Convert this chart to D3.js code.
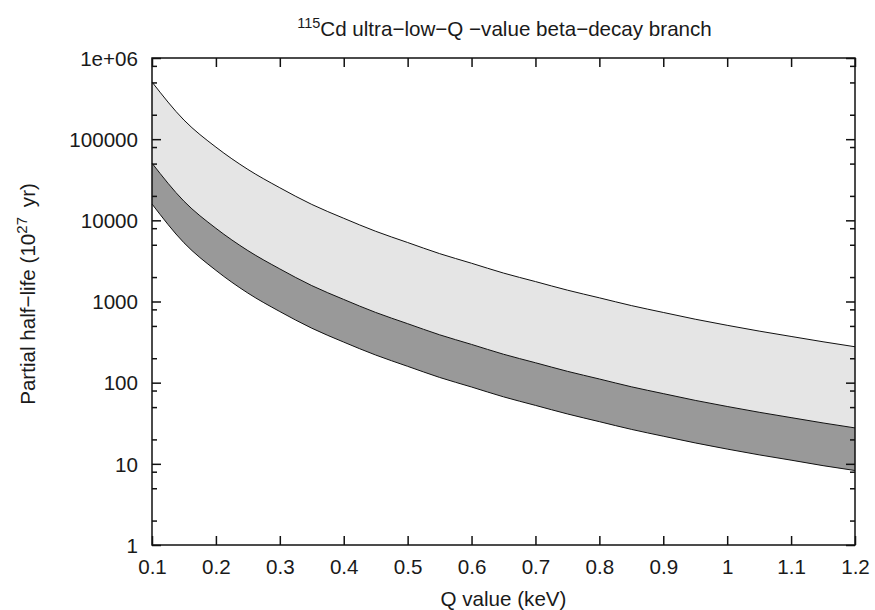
<!DOCTYPE html>
<html>
<head>
<meta charset="utf-8">
<script src="https://cdn.jsdelivr.net/npm/d3@7"></script>
<style>
  html, body { margin: 0; padding: 0; background: #fff; }
  svg { display: block; }
  text { font-family: "Liberation Sans", Arial, Helvetica, sans-serif; fill: #1a1a1a; }
</style>
</head>
<body>
<svg id="chart" width="875" height="610"></svg>
<script>
// ---- Data ----
const qValues = [0.1, 0.15, 0.2, 0.25, 0.3, 0.35, 0.4, 0.45, 0.5, 0.55, 0.6, 0.65,
                 0.7, 0.75, 0.8, 0.85, 0.9, 0.95, 1.0, 1.05, 1.1, 1.15, 1.2];
const upperLimit = [506000, 172000, 79800, 42400, 25200, 15700, 10600, 7330, 5330, 3890, 2960, 2240,
                    1760, 1380, 1110, 891, 733, 605, 509, 432, 371, 319, 277];
const middleLimit = [50600, 17200, 7980, 4240, 2520, 1570, 1060, 733, 533, 389, 296, 224,
                     176, 138, 111, 89, 73.3, 60.5, 50.9, 43.2, 37.1, 31.9, 27.7];
const lowerLimit = [15900, 5290, 2420, 1270, 752, 469, 316, 219, 159, 116, 88.4, 66.9,
                    52.5, 41.2, 33.1, 26.6, 21.9, 18.1, 15.2, 12.9, 11.1, 9.5, 8.27];

const xTickValues = [0.1, 0.2, 0.3, 0.4, 0.5, 0.6, 0.7, 0.8, 0.9, 1.0, 1.1, 1.2];
const xTickLabels = ["0.1", "0.2", "0.3", "0.4", "0.5", "0.6", "0.7", "0.8", "0.9", "1", "1.1", "1.2"];
const yTickValues = [1, 10, 100, 1000, 10000, 100000, 1000000];
const yTickLabels = ["1", "10", "100", "1000", "10000", "100000", "1e+06"];
const yMinorMantissas = [2, 5, 8];
const yMinorValues = [];
for (let e = 0; e < 6; e++) { yMinorMantissas.forEach(m => yMinorValues.push(m * Math.pow(10, e))); }

// ---- Layout ----
const svg = d3.select("#chart");
const plotL = 152, plotR = 855, plotT = 58, plotB = 545;
const FS = 20.6;

const x = d3.scaleLinear().domain([0.1, 1.2]).range([plotL, plotR]);
const y = d3.scaleLog().domain([1, 1e6]).range([plotB, plotT]);

const rows = qValues.map((q, i) => ({ q, up: upperLimit[i], mid: middleLimit[i], lo: lowerLimit[i] }));

// bands
const curve = d3.curveMonotoneX;
const lightArea = d3.area().x(d => x(d.q)).y0(d => y(d.mid)).y1(d => y(d.up)).curve(curve);
const darkArea = d3.area().x(d => x(d.q)).y0(d => y(d.lo)).y1(d => y(d.mid)).curve(curve);

svg.append("path").datum(rows).attr("d", lightArea).attr("fill", "#e5e5e5");
svg.append("path").datum(rows).attr("d", darkArea).attr("fill", "#999999");

const lineGen = key => d3.line().x(d => x(d.q)).y(d => y(d[key])).curve(curve);
["up", "mid", "lo"].forEach(k => {
  svg.append("path").datum(rows).attr("d", lineGen(k))
    .attr("fill", "none").attr("stroke", "#111").attr("stroke-width", 1);
});

// ---- Axes ----
function styleAxis(g) {
  g.select(".domain").remove();
  g.selectAll(".tick line").attr("stroke", "#111").attr("stroke-width", 1.5);
  g.selectAll(".tick text").attr("font-size", FS).attr("fill", "#1a1a1a")
    .attr("font-family", "'Liberation Sans', Arial, sans-serif");
}

// bottom
svg.append("g").attr("transform", `translate(0,${plotB})`)
  .call(d3.axisBottom(x).tickValues(xTickValues).tickFormat((d, i) => xTickLabels[i])
    .tickSize(-9).tickSizeOuter(0).tickPadding(14))
  .call(styleAxis);
// top
svg.append("g").attr("transform", `translate(0,${plotT})`)
  .call(d3.axisTop(x).tickValues(xTickValues).tickFormat("").tickSize(-9).tickSizeOuter(0))
  .call(styleAxis);
// left major
svg.append("g").attr("transform", `translate(${plotL},0)`)
  .call(d3.axisLeft(y).tickValues(yTickValues).tickFormat((d, i) => yTickLabels[i])
    .tickSize(-9).tickSizeOuter(0).tickPadding(14))
  .call(styleAxis)
  .call(g => g.selectAll(".tick text").attr("dy", "0.35em"));
// left minor
svg.append("g").attr("transform", `translate(${plotL},0)`)
  .call(d3.axisLeft(y).tickValues(yMinorValues).tickFormat("").tickSize(-5).tickSizeOuter(0))
  .call(styleAxis);
// right major
svg.append("g").attr("transform", `translate(${plotR},0)`)
  .call(d3.axisRight(y).tickValues(yTickValues).tickFormat("").tickSize(-9).tickSizeOuter(0))
  .call(styleAxis);
// right minor
svg.append("g").attr("transform", `translate(${plotR},0)`)
  .call(d3.axisRight(y).tickValues(yMinorValues).tickFormat("").tickSize(-5).tickSizeOuter(0))
  .call(styleAxis);

// frame
svg.append("rect").attr("x", plotL).attr("y", plotT)
  .attr("width", plotR - plotL).attr("height", plotB - plotT)
  .attr("fill", "none").attr("stroke", "#111").attr("stroke-width", 1.5);

// ---- Titles ----
const title = svg.append("text").attr("x", (plotL + plotR) / 2 + 1).attr("y", 36)
  .attr("text-anchor", "middle").attr("font-size", FS);
title.append("tspan").attr("font-size", 14.5).attr("dy", -8).text("115");
title.append("tspan").attr("dy", 8).text("Cd ultra\u2212low\u2212Q \u2212value beta\u2212decay branch");

svg.append("text").attr("x", (plotL + plotR) / 2).attr("y", 606)
  .attr("text-anchor", "middle").attr("font-size", FS).text("Q value (keV)");

const yl = svg.append("text").attr("transform", "translate(35,294) rotate(-90)")
  .attr("text-anchor", "middle").attr("font-size", FS);
yl.append("tspan").text("Partial half\u2212life (10");
yl.append("tspan").attr("font-size", 15).attr("dy", -8).text("27");
yl.append("tspan").attr("dy", 8).text("\u2009 yr)");
</script>
</body>
</html>
